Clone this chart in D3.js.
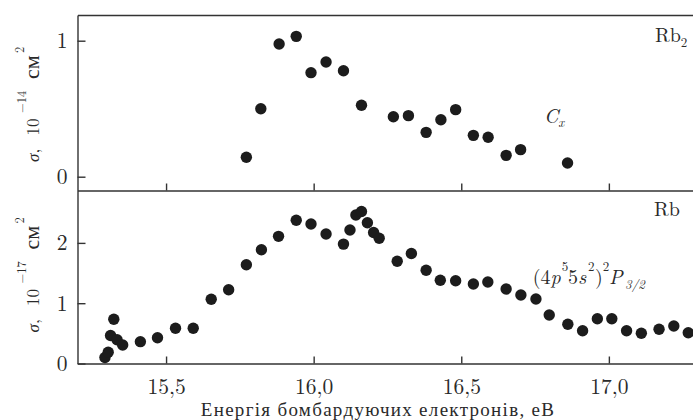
<!DOCTYPE html>
<html><head><meta charset="utf-8">
<script src="https://cdn.jsdelivr.net/npm/d3@7"></script>
<style>
body{margin:0;background:#fff}
svg{display:block}
</style>
</head><body><svg id="c" width="693" height="420"></svg>
<script>
// ---- data ----
const rb2Energy = [15.772,15.821,15.883,15.941,15.991,16.042,16.101,16.162,16.270,16.321,16.381,16.431,16.481,16.541,16.591,16.652,16.701,16.860];
const rb2Sigma  = [0.143,0.500,0.976,1.032,0.765,0.843,0.779,0.525,0.441,0.449,0.326,0.419,0.493,0.304,0.290,0.157,0.199,0.101];
const rbEnergy = [15.293,15.304,15.312,15.323,15.334,15.353,15.413,15.471,15.532,15.592,15.653,15.712,15.772,15.823,15.881,15.941,15.991,16.042,16.101,16.123,16.143,16.162,16.182,16.203,16.222,16.283,16.331,16.381,16.429,16.481,16.541,16.590,16.652,16.702,16.753,16.798,16.861,16.911,16.961,17.010,17.060,17.110,17.170,17.220,17.269];
const rbSigma  = [0.10,0.186,0.464,0.735,0.395,0.307,0.362,0.428,0.584,0.584,1.065,1.224,1.638,1.887,2.109,2.376,2.313,2.148,1.980,2.214,2.463,2.521,2.333,2.172,2.076,1.695,1.824,1.547,1.381,1.373,1.318,1.352,1.236,1.136,1.070,0.804,0.650,0.544,0.743,0.743,0.544,0.501,0.567,0.622,0.511];
const xTicks = [15.5,16.0,16.5,17.0];
const xTickLabels = ["15,5","16,0","16,5","17,0"];
const yTopTicks = [0,1];
const yBotTicks = [0,1,2];
const xTitle = "Енергія бомбардуючих електронів, еВ";

// ---- layout ----
const LM = "Latin Modern Roman", CYR = "Liberation Serif", INK = "#2a2a2a";
const svg = d3.select("#c");
const L = 77.5, R = 693, T = 15, MID = 190.5, B = 363.5;
const x = d3.scaleLinear().domain([15.2, 17.285]).range([L, R]);
const yTop = d3.scaleLinear().domain([0,1]).range([176.7,40.7]);
const yBot = d3.scaleLinear().domain([0,2]).range([B,242.9]);
const yTopAx = yTop.copy().domain([yTop.invert(MID), yTop.invert(T)]).range([MID,T]);
const yBotAx = yBot.copy().domain([yBot.invert(B), yBot.invert(MID)]).range([B,MID]);

const axStroke = "#333", axW = 1.4;
function style(g){
  g.attr("font-family", LM);
  g.selectAll("path.domain").attr("stroke",axStroke).attr("stroke-width",axW);
  g.selectAll(".tick line").attr("stroke",axStroke).attr("stroke-width",axW);
  g.selectAll(".tick text").attr("font-family",LM).attr("font-size",21.5).attr("fill",INK);
}

svg.append("g").attr("transform",`translate(0,${T})`)
  .call(d3.axisTop(x).tickValues([]).tickSizeOuter(0)).call(style);
svg.append("g").attr("transform",`translate(0,${MID})`)
  .call(d3.axisBottom(x).tickValues(xTicks).tickSizeInner(-7).tickSizeOuter(0).tickFormat("")).call(style);
svg.append("g").attr("transform",`translate(0,${B})`)
  .call(d3.axisBottom(x).tickValues(xTicks).tickSizeInner(-7).tickSizeOuter(0).tickPadding(15)
    .tickFormat((d,i)=>xTickLabels[i])).call(style);
svg.append("g").attr("transform",`translate(${L},0)`)
  .call(d3.axisLeft(yTopAx).tickValues(yTopTicks).tickSizeInner(-8).tickSizeOuter(0).tickPadding(10).tickFormat(d3.format("d"))).call(style);
svg.append("g").attr("transform",`translate(${L},0)`)
  .call(d3.axisLeft(yBotAx).tickValues(yBotTicks).tickSizeInner(-8).tickSizeOuter(0).tickPadding(10).tickFormat(d3.format("d"))).call(style);

// dots
const r = 5.7, dotFill = "#1c1c1c";
svg.append("g").selectAll("circle").data(rb2Energy.map((e,i)=>[e,rb2Sigma[i]])).join("circle")
  .attr("cx",d=>x(d[0])).attr("cy",d=>yTop(d[1])).attr("r",r).attr("fill",dotFill);
svg.append("g").selectAll("circle").data(rbEnergy.map((e,i)=>[e,rbSigma[i]])).join("circle")
  .attr("cx",d=>x(d[0])).attr("cy",d=>yBot(d[1])).attr("r",r).attr("fill",dotFill);

function txt(sel){ return sel.append("text").attr("font-family",LM).attr("fill",INK); }

// x title
svg.append("text").attr("font-family",CYR).attr("fill",INK)
  .attr("x",378).attr("y",415.5).attr("text-anchor","middle").attr("font-size",19)
  .attr("letter-spacing",1.3).text(xTitle);

// y titles
function yTitle(cy, expo){
  const g = svg.append("g").attr("transform",`translate(38.5,${cy}) rotate(-90)`);
  const t = txt(g).attr("font-size",17);
  t.append("tspan").attr("x",-57.5).attr("y",0).attr("font-style","italic").text("σ");
  t.append("tspan").text(",");
  t.append("tspan").attr("x",-31).attr("y",0).text("10");
  t.append("tspan").attr("x",-8.5).attr("y",-13).attr("font-size",12.5).text(expo);
  g.append("text").attr("font-family",CYR).attr("fill",INK).attr("font-size",22)
    .attr("x",25.5).attr("y",0).text("см");
  txt(g).attr("font-size",12.5).attr("x",51.5).attr("y",-15).text("2");
}
yTitle(104.5, "−14");
yTitle(275, "−17");

// annotations
const a1 = txt(svg).attr("x",655).attr("y",41.7).attr("font-size",20);
a1.append("tspan").text("Rb");
a1.append("tspan").attr("font-size",13).attr("dy",5).text("2");
txt(svg).attr("x",654).attr("y",216).attr("font-size",20).text("Rb");
const c = txt(svg).attr("x",544).attr("y",122.7).attr("font-size",20).attr("font-style","italic");
c.append("tspan").text("C");
c.append("tspan").attr("font-size",13).attr("dy",4).text("x");

const f = txt(svg).attr("font-size",20);
const base = 284, sup = 271, sub = 289;
f.append("tspan").attr("x",532.7).attr("y",base).text("(4");
f.append("tspan").attr("font-style","italic").text("p");
f.append("tspan").attr("x",561.7).attr("y",sup).attr("font-size",13).text("5");
f.append("tspan").attr("x",568).attr("y",base).text("5");
f.append("tspan").attr("font-style","italic").text("s");
f.append("tspan").attr("x",588).attr("y",sup).attr("font-size",13).text("2");
f.append("tspan").attr("x",595).attr("y",base).text(")");
f.append("tspan").attr("x",602.7).attr("y",sup).attr("font-size",13).text("2");
f.append("tspan").attr("x",609).attr("y",base).attr("font-style","italic").text("P");
f.append("tspan").attr("x",625).attr("y",sub).attr("font-size",13).attr("font-style","italic").text("3/2");
</script></body></html>
